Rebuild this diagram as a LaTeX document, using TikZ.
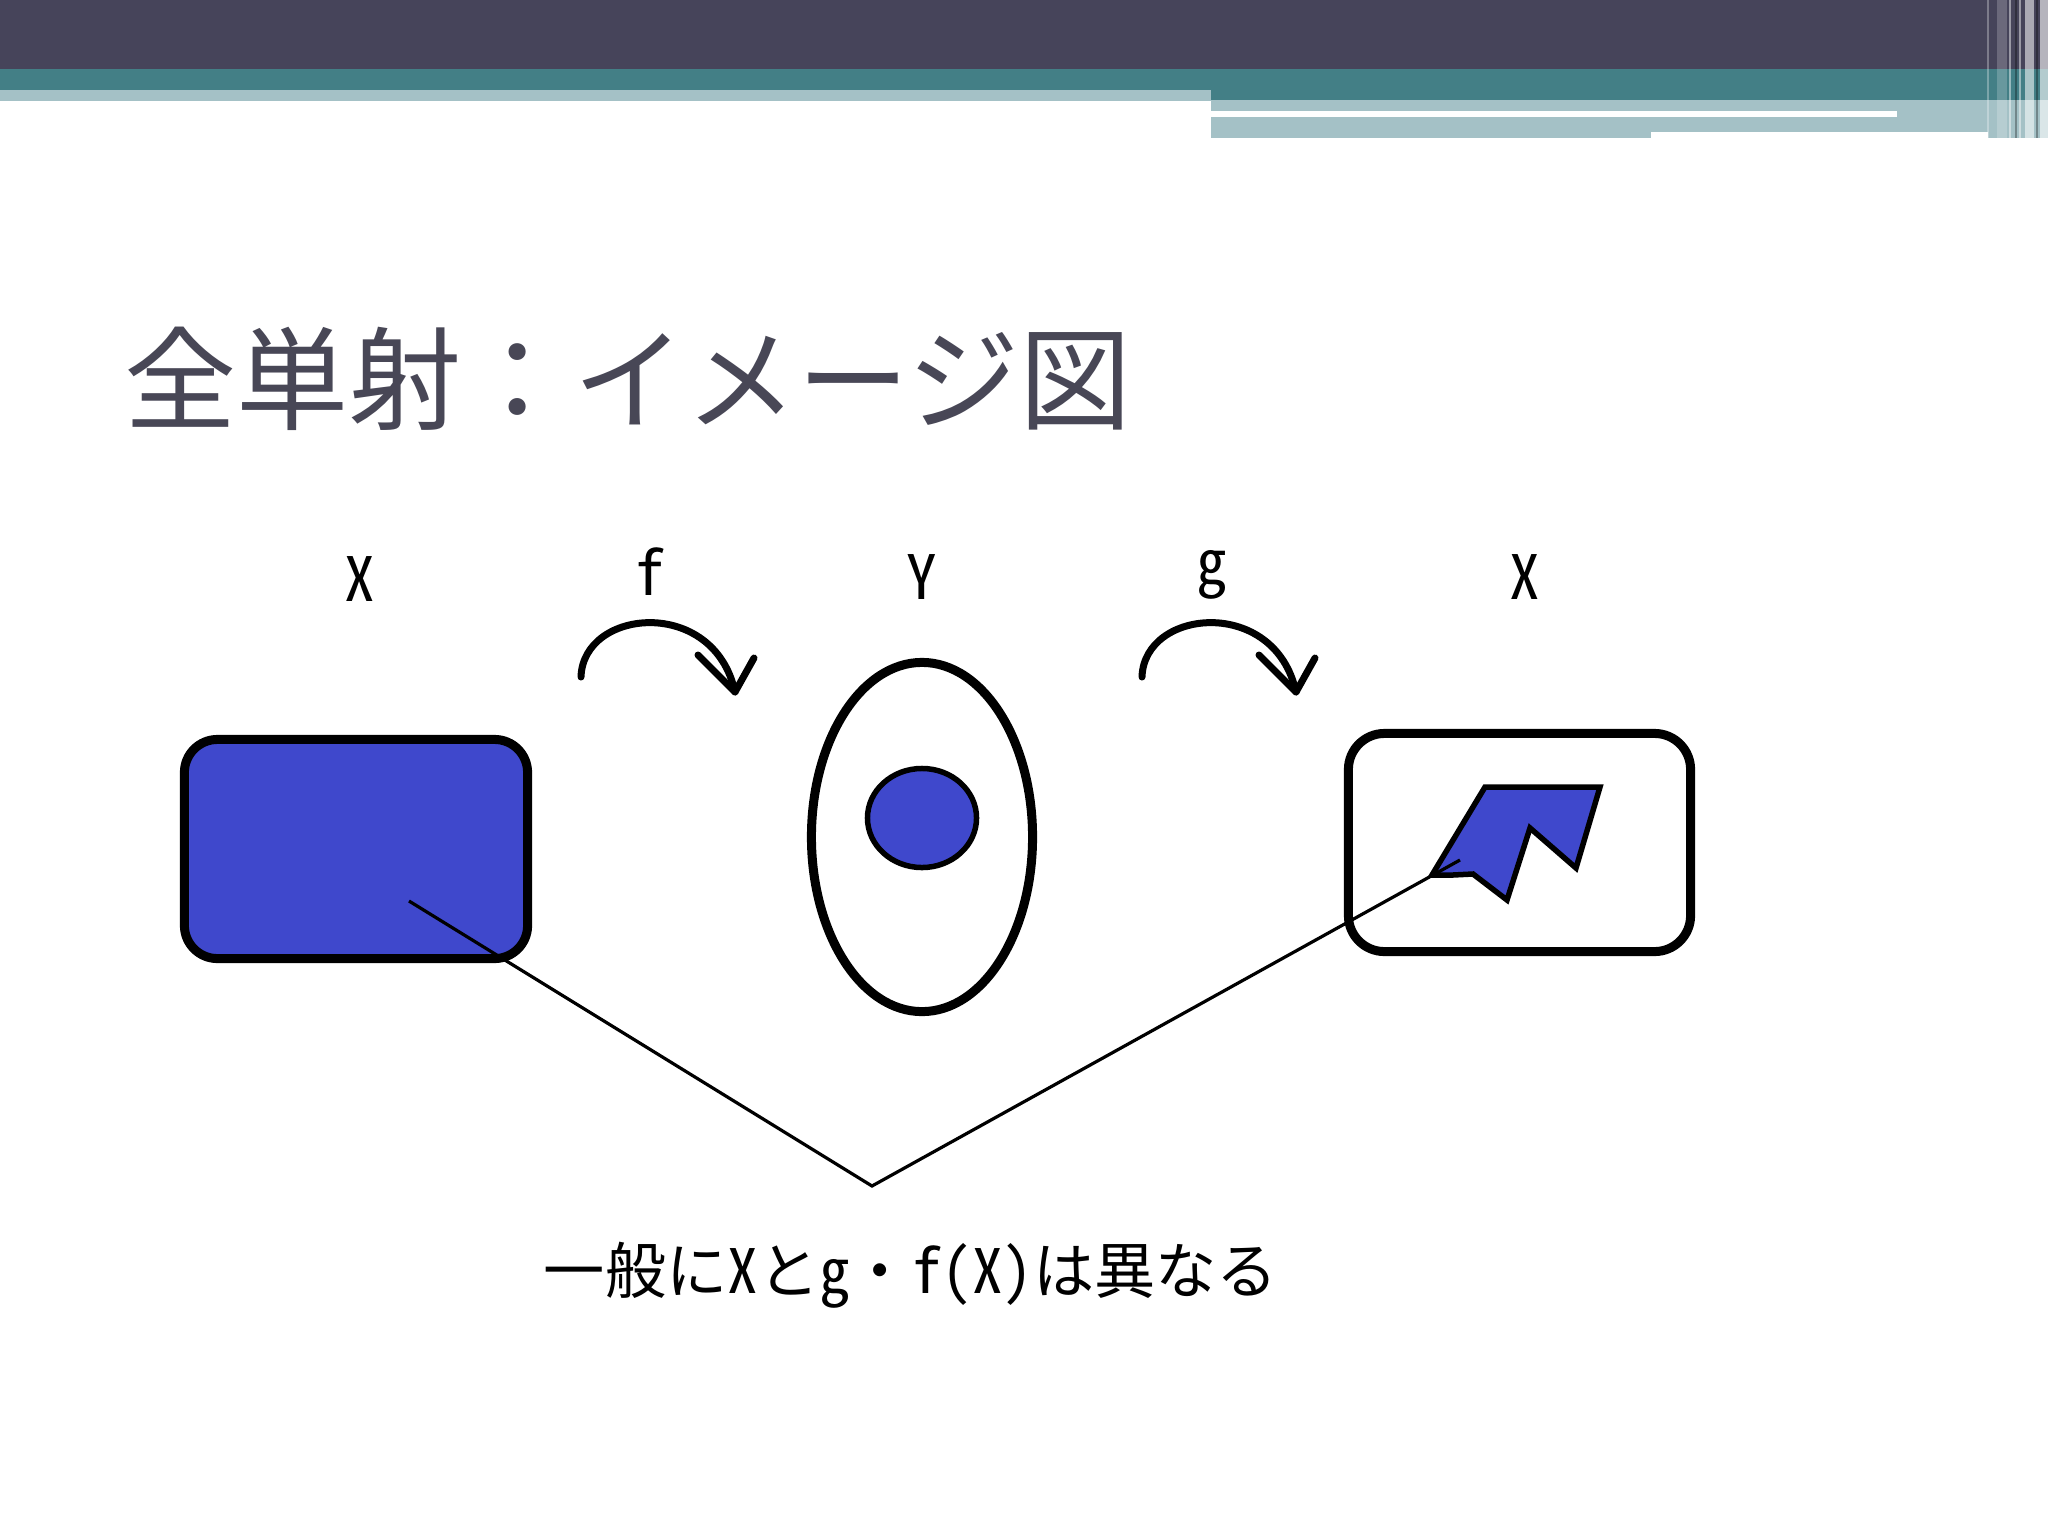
\documentclass[tikz,border=0pt]{standalone}
\usepackage{fontspec}
\usetikzlibrary{shapes.geometric}
\newfontfamily\jp{Noto Sans CJK JP}
\newfontfamily\jph[RawFeature=+hwid]{Noto Sans CJK JP}
\definecolor{hdark}{RGB}{70,68,90}
\definecolor{hteal}{RGB}{67,127,134}
\definecolor{hlight}{RGB}{164,193,198}
\definecolor{titlegray}{RGB}{72,71,86}
\definecolor{pblue}{RGB}{63,72,204}
\tikzset{
  shapebox/.style={draw=black, line width=0.09cm, inner sep=0pt},
  arcline/.style={draw=black, line width=0.07cm, line cap=round, line join=round},
  pointer/.style={draw=black, line width=0.032cm},
  lbl/.style={font=\jph\fontsize{17.4pt}{18pt}\selectfont, anchor=base, inner sep=0pt},
}
\begin{document}
\begin{tikzpicture}[x=0.01cm,y=-0.01cm]
\useasboundingbox (0,0) rectangle (2048,1536);
\fill[white] (0,0) rectangle (2048,1536);
% header bars
\fill[hdark] (0,0) rectangle (2048,69);
\fill[hteal] (0,69) rectangle (2048,100);
\fill[hlight] (0,90) rectangle (1211,101);
\fill[hlight] (1211,100) rectangle (2048,132);
\fill[hlight] (1211,132) rectangle (1651,138);
\fill[hlight] (1988,132) rectangle (2048,138);
\fill[white] (1211,111) rectangle (1897,117);
% right stripes
\fill[white,opacity=.3] (1987,0) rectangle (1989,138);
\fill[white,opacity=.2] (1997,0) rectangle (2007,138);
\fill[white,opacity=.45] (2009,0) rectangle (2011,138);
\fill[black,opacity=.3] (2015,0) rectangle (2017,138);
\fill[white,opacity=.45] (2019,0) rectangle (2021,138);
\fill[white,opacity=.55] (2025,0) rectangle (2034,138);
\fill[black,opacity=.3] (2036,0) rectangle (2038,138);
\fill[white,opacity=.6] (2040,0) rectangle (2048,138);
% title
\node[anchor=west, inner sep=0pt, text=titlegray, font=\jp\fontsize{31.9pt}{32pt}\selectfont] (title) at (124,379) {全単射：イメージ図};
% labels
\node[lbl] (lx1) at (360,601) {X};
\node[lbl] (lf) at (650,595) {f};
\node[lbl] (ly) at (922,599) {Y};
\node[lbl] (lg) at (1212,584) {g};
\node[lbl] (lx2) at (1525,599) {X};
% shapes
\node[shapebox, fill=pblue, rectangle, rounded corners=0.33cm, minimum width=3.43cm, minimum height=2.19cm] (A) at (356,849) {};
\node[shapebox, ellipse, minimum width=2.21cm, minimum height=3.49cm] (B) at (922,837) {};
\node[draw=black, line width=0.055cm, fill=pblue, ellipse, inner sep=0pt, minimum width=1.09cm, minimum height=0.99cm] (Bi) at (922,818) {};
\node[shapebox, rectangle, rounded corners=0.36cm, minimum width=3.42cm, minimum height=2.18cm] (C) at (1519.5,842.5) {};
% image polygon
\draw[draw=black, line width=0.055cm, fill=pblue, line join=miter]
  (1485,787) -- (1600,787) -- (1576,868) -- (1530,828) -- (1507,900)
  -- (1473,874) -- (1453,875) -- (1432,875) -- cycle;
% curved arrows
\draw[arcline] (581,677) .. controls (583,608) and (714,596) .. (735,692);
\draw[arcline] (698,655) -- (735,692) -- (754,658);
\draw[arcline] (1142,677) .. controls (1144,608) and (1275,596) .. (1296,692);
\draw[arcline] (1259,655) -- (1296,692) -- (1315,658);
% pointer lines
\coordinate (pa) at (409,901);
\coordinate (pv) at (872,1186);
\coordinate (pb) at (1460,860);
\draw[pointer] (pa) -- (pv) -- (pb);
% bottom text
\node[lbl] (note) at (911,1293) {一般にXとg・f(X)は異なる};
\end{tikzpicture}
\end{document}
